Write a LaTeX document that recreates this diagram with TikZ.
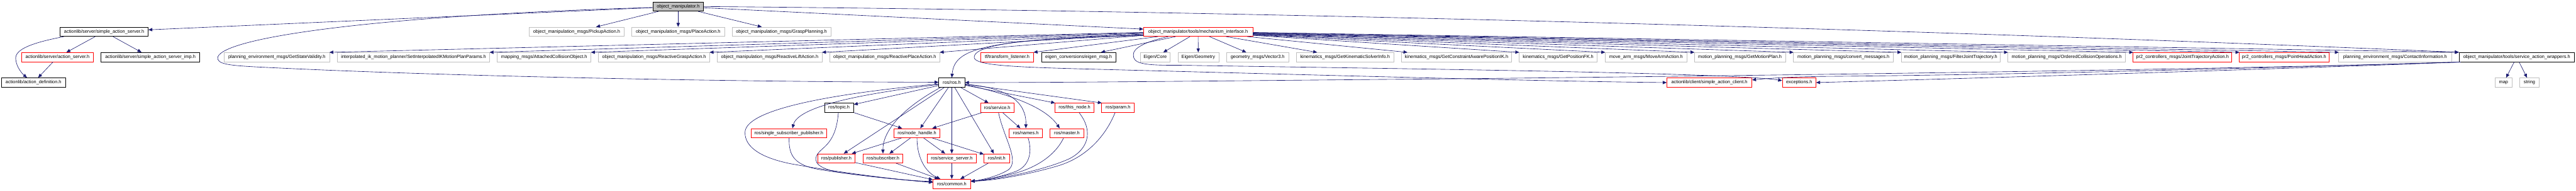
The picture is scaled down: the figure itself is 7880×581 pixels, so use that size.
\documentclass[tikz,border=0pt]{standalone}
\usepackage{fontspec}
\setmainfont{Liberation Sans}
\usetikzlibrary{arrows.meta}
\definecolor{edgec}{HTML}{191970}
\definecolor{grayc}{HTML}{BFBFBF}
\definecolor{redc}{HTML}{FF0000}
\definecolor{rootgray}{HTML}{BFBFBF}
\tikzset{
  nb/.style={draw, rectangle, minimum height=28.3pt, inner xsep=0pt, inner ysep=0pt,
    font=\fontsize{14.2pt}{17pt}\selectfont, text=black, fill=white},
  gbox/.style={nb, draw=grayc, line width=1.2pt},
  rbox/.style={nb, draw=redc, line width=1.2pt},
  kbox/.style={nb, draw=black, line width=1.6pt},
  rootbox/.style={nb, draw=black, fill=rootgray, line width=1.6pt},
  e/.style={draw=edgec, line width=1.2pt, -{Triangle[length=12pt,width=10pt]}},
}
\begin{document}
\begin{tikzpicture}[x=1pt,y=-1pt]
\fill[white] (0,0) rectangle (7880,581);
\useasboundingbox (0,0) rectangle (7880,581);

% layer 0
\node[rootbox, minimum width=155pt] (root) at (2074.5,19.9) {object\_manipulator.h};
% layer 1
\node[kbox, minimum width=269pt] (sas) at (318.5,96.9) {actionlib/server/simple\_action\_server.h};
\node[gbox, minimum width=290pt] (pick) at (1764,96.9) {object\_manipulation\_msgs/PickupAction.h};
\node[gbox, minimum width=283pt] (place) at (2074.5,96.9) {object\_manipulation\_msgs/PlaceAction.h};
\node[gbox, minimum width=301pt] (gplan) at (2390.5,96.9) {object\_manipulation\_msgs/GraspPlanning.h};
\node[rbox, minimum width=334pt] (mech) at (3665,96.9) {object\_manipulator/tools/mechanism\_interface.h};
% layer 2
\node[rbox, minimum width=220pt] (asrv) at (176,174.5) {actionlib/server/action\_server.h};
\node[kbox, minimum width=302pt] (sasimp) at (460,174.5) {actionlib/server/simple\_action\_server\_imp.h};
\node[gbox, minimum width=322pt] (gsv) at (847,174.5) {planning\_environment\_msgs/GetStateValidity.h};
\node[gbox, minimum width=466pt] (iik) at (1265,174.5) {interpolated\_ik\_motion\_planner/SetInterpolatedIKMotionPlanParams.h};
\node[gbox, minimum width=287pt] (aco) at (1664.5,174.5) {mapping\_msgs/AttachedCollisionObject.h};
\node[gbox, minimum width=340pt] (rga) at (2001,174.5) {object\_manipulation\_msgs/ReactiveGraspAction.h};
\node[gbox, minimum width=321pt] (rla) at (2354.5,174.5) {object\_manipulation\_msgs/ReactiveLiftAction.h};
\node[gbox, minimum width=337pt] (rpa) at (2706.5,174.5) {object\_manipulation\_msgs/ReactivePlaceAction.h};
\node[rbox, minimum width=162pt] (tfl) at (3081,174.5) {tf/transform\_listener.h};
\node[kbox, minimum width=227pt] (eig) at (3299.5,174.5) {eigen\_conversions/eigen\_msg.h};
\node[gbox, minimum width=91pt] (ecore) at (3533.5,174.5) {Eigen/Core};
\node[gbox, minimum width=125pt] (egeo) at (3665.5,174.5) {Eigen/Geometry};
\node[gbox, minimum width=190pt] (vec3) at (3847,174.5) {geometry\_msgs/Vector3.h};
\node[gbox, minimum width=299pt] (gksi) at (4114.5,174.5) {kinematics\_msgs/GetKinematicSolverInfo.h};
\node[gbox, minimum width=337pt] (gcapik) at (4455.5,174.5) {kinematics\_msgs/GetConstraintAwarePositionIK.h};
\node[gbox, minimum width=239pt] (gpfk) at (4766.5,174.5) {kinematics\_msgs/GetPositionFK.h};
\node[gbox, minimum width=250pt] (maa) at (5035,174.5) {move\_arm\_msgs/MoveArmAction.h};
\node[gbox, minimum width=279pt] (gmp) at (5322.5,174.5) {motion\_planning\_msgs/GetMotionPlan.h};
\node[gbox, minimum width=306pt] (cmsg) at (5639,174.5) {motion\_planning\_msgs/convert\_messages.h};
\node[gbox, minimum width=302pt] (fjt) at (5967,174.5) {motion\_planning\_msgs/FilterJointTrajectory.h};
\node[gbox, minimum width=360pt] (oco) at (6322,174.5) {motion\_planning\_msgs/OrderedCollisionOperations.h};
\node[rbox, minimum width=302pt] (jta) at (6676,174.5) {pr2\_controllers\_msgs/JointTrajectoryAction.h};
\node[rbox, minimum width=274pt] (pha) at (6987,174.5) {pr2\_controllers\_msgs/PointHeadAction.h};
\node[gbox, minimum width=345pt] (cinfo) at (7326.5,174.5) {planning\_environment\_msgs/ContactInformation.h};
\node[kbox, minimum width=353pt] (saw) at (7698.5,174.5) {object\_manipulator/tools/service\_action\_wrappers.h};
% layer 3
\node[kbox, minimum width=195pt] (adef) at (102.5,252) {actionlib/action\_definition.h};
\node[kbox, minimum width=79pt] (ros) at (2911.5,252) {ros/ros.h};
\node[rbox, minimum width=260pt] (sac) at (5229,252) {actionlib/client/simple\_action\_client.h};
\node[rbox, minimum width=103pt] (exc) at (5503.5,252) {exceptions.h};
\node[gbox, minimum width=51pt] (map) at (7658.5,252) {map};
\node[gbox, minimum width=59pt] (str) at (7737.5,252) {string};
% layer 4
\node[kbox, minimum width=89pt] (topic) at (2566.5,329) {ros/topic.h};
\node[rbox, minimum width=103pt] (srv) at (3050.5,329) {ros/service.h};
\node[rbox, minimum width=120pt] (tnode) at (3287,329) {ros/this\_node.h};
\node[rbox, minimum width=100pt] (param) at (3420,329) {ros/param.h};
% layer 5
\node[rbox, minimum width=232pt] (ssp) at (2413,406.3) {ros/single\_subscriber\_publisher.h};
\node[rbox, minimum width=140pt] (nh) at (2805,406.3) {ros/node\_handle.h};
\node[rbox, minimum width=102pt] (names) at (3138,406.3) {ros/names.h};
\node[rbox, minimum width=103pt] (master) at (3263.5,406.3) {ros/master.h};
% layer 6
\node[rbox, minimum width=115pt] (pub) at (2558.5,483.5) {ros/publisher.h};
\node[rbox, minimum width=122pt] (sub) at (2701,483.5) {ros/subscriber.h};
\node[rbox, minimum width=149pt] (ssrv) at (2911.5,483.5) {ros/service\_server.h};
\node[rbox, minimum width=78pt] (init) at (3049,483.5) {ros/init.h};
% layer 7
\node[rbox, minimum width=115pt] (common) at (2911.5,561) {ros/common.h};

% ---- edges from root
\draw[e] (root) -- (sas);
\draw[e] (root) -- (pick);
\draw[e] (root) -- (place);
\draw[e] (root) -- (gplan);
\draw[e] (root) -- (mech);
\draw[e] (root.east) .. controls (4000,35) and (6000,95) .. (saw.north west);
\draw[e] ([yshift=-3pt]root.west) .. controls (1200,45) and (690,110) .. (666,174)
  .. controls (662,196) and (700,200) .. (800,205)
  .. controls (1400,235) and (2300,250) .. ([yshift=1pt]ros.west);

% ---- simple action server
\draw[e] (sas) -- (asrv);
\draw[e] (sas) -- (sasimp);
\draw[e] ([xshift=12pt]sas.south west) .. controls (100,130) and (45,150) .. (48,180)
  .. controls (50,205) and (68,225) .. ([xshift=-20pt]adef.north);
\draw[e] (asrv) -- (adef);

% ---- mechanism interface, left
\draw[e] ([yshift=-2pt]mech.west) -- ([xshift=-1pt]gsv.north east);
\draw[e] ([yshift=-3pt]mech.west) -- ([xshift=-1pt]iik.north east);
\draw[e] ([yshift=-5pt]mech.west) -- ([xshift=-1pt]aco.north east);
\draw[e] ([yshift=-7pt]mech.west) -- ([xshift=-1pt]rga.north east);
\draw[e] ([yshift=-9pt]mech.west) -- ([xshift=-1pt]rla.north east);
\draw[e] ([yshift=-11pt]mech.west) -- ([xshift=-1pt]rpa.north east);
\draw[e] ([xshift=45pt]mech.south west) -- ([xshift=-1pt]tfl.north east);
\draw[e] ([xshift=99pt]mech.south west) -- ([xshift=-46pt]eig.north east);
\draw[e] ([yshift=3pt]mech.south west) .. controls (3000,120) and (2920,150) .. (ros.north);
\draw[e] ([yshift=4pt]mech.south west) .. controls (3150,115) and (2982,135) .. (2980,174)
  .. controls (2978,198) and (3080,204) .. (3300,210)
  .. controls (4000,228) and (4700,248) .. (sac.west);
\draw[e] ([xshift=76pt]mech.south west) .. controls (3500,128) and (3466,148) .. (3467,167)
  .. controls (3466,192) and (3490,200) .. (3600,199)
  .. controls (4300,210) and (5300,222) .. ([yshift=6pt]exc.west);
% ---- mechanism interface, below / right
\draw[e] (mech) -- (ecore);
\draw[e] (mech) -- (egeo);
\draw[e] (mech) -- (vec3);
\draw[e] (mech) -- (gksi);
\draw[e] (mech) -- (gcapik);
\draw[e] ([yshift=-11pt]mech.east) -- ([xshift=1pt]gpfk.north west);
\draw[e] ([yshift=-10pt]mech.east) -- ([xshift=1pt]maa.north west);
\draw[e] ([yshift=-9pt]mech.east) -- ([xshift=1pt]gmp.north west);
\draw[e] ([yshift=-8pt]mech.east) -- ([xshift=1pt]cmsg.north west);
\draw[e] ([yshift=-7pt]mech.east) -- ([xshift=1pt]fjt.north west);
\draw[e] ([yshift=-6pt]mech.east) -- ([xshift=1pt]oco.north west);
\draw[e] ([yshift=-5pt]mech.east) -- ([xshift=1pt]jta.north west);
\draw[e] ([yshift=-4pt]mech.east) -- ([xshift=1pt]pha.north west);
\draw[e] ([yshift=-3pt]mech.east) -- ([xshift=1pt]cinfo.north west);
\draw[e] ([yshift=-2pt]mech.east) -- ([xshift=1pt]saw.north west);

% ---- service action wrappers
\draw[e] (saw) -- (map);
\draw[e] (saw) -- (str);
\draw[e] ([xshift=2pt]saw.south west) .. controls (6900,210) and (5600,228) .. (4500,240)
  .. controls (3800,246) and (3300,252) .. (ros.east);
\draw[e] ([xshift=4pt]saw.south west) .. controls (7000,205) and (6200,228) .. (5600,233)
  .. controls (5470,234) and (5400,240) .. ([yshift=8pt]sac.east);
\draw[e] ([xshift=6pt]saw.south west) .. controls (7000,210) and (6000,240) .. (exc.east);

% ---- ros/ros.h
\draw[e] (ros) -- (topic);
\draw[e] (ros) -- (pub);
\draw[e] (ros) -- (nh);
\draw[e] (ros) -- (ssrv);
\draw[e] (ros) -- (init);
\draw[e] (ros) -- (srv);
\draw[e] ([yshift=-8pt]ros.east) -- ([xshift=1pt]tnode.north west);
\draw[e] ([yshift=-5pt]ros.east) -- ([xshift=1pt]param.north west);
\draw[e] ([yshift=-6pt]ros.west) .. controls (2600,290) and (2440,330) .. ([xshift=11pt]ssp.north);
\draw[e] ([yshift=-4pt]ros.west) .. controls (2500,290) and (2280,340) .. (2279,404)
  .. controls (2278,450) and (2330,482) .. (2420,500)
  .. controls (2600,532) and (2780,552) .. ([yshift=5pt]common.west);
\draw[e] ([xshift=6pt]ros.south west) .. controls (2760,330) and (2700,400) .. (sub.north);
\draw[e] ([yshift=-5pt]ros.east) .. controls (3090,268) and (3140,315) .. (names.north);
\draw[e] ([yshift=-6pt]ros.east) .. controls (3100,290) and (3200,330) .. ([xshift=-22pt]master.north);

% ---- second level
\draw[e] (topic) -- (nh);
\draw[e] ([xshift=-2pt]topic.south) .. controls (2560,400) and (2545,430) .. (2515,455)
  .. controls (2480,485) and (2490,510) .. (2560,525)
  .. controls (2700,545) and (2800,552) .. ([yshift=7pt]common.west);
\draw[e] (srv) -- (nh);
\draw[e] (srv) -- (names);
\draw[e] ([xshift=4pt]srv.south) .. controls (3070,420) and (3120,490) .. (3085,518)
  .. controls (3050,540) and (3000,549) .. ([yshift=7pt]common.east);
\draw[e] (nh) -- (pub);
\draw[e] (nh) -- (sub);
\draw[e] (nh) -- (ssrv);
\draw[e] (nh) -- (init);
\draw[e] (nh.south) .. controls (2805,480) and (2830,525) .. ([xshift=-35pt]common.north);
\draw[e] ([xshift=1pt]ssp.south) .. controls (2412,475) and (2430,505) .. (2510,518)
  .. controls (2650,540) and (2800,552) .. ([yshift=4pt]common.west);
\draw[e] ([xshift=7pt]names.south) .. controls (3160,470) and (3145,510) .. (3105,524)
  .. controls (3060,540) and (3010,550) .. ([yshift=8pt]common.east);
\draw[e] ([xshift=-10pt]master.south) .. controls (3225,480) and (3160,515) .. (3100,530)
  .. controls (3050,542) and (3010,550) .. ([yshift=8pt]common.east);
\draw[e] ([xshift=14pt]tnode.south) .. controls (3345,400) and (3330,455) .. (3270,485)
  .. controls (3180,525) and (3030,550) .. ([yshift=8pt]common.east);
\draw[e] ([xshift=-9pt]param.south) .. controls (3380,420) and (3320,480) .. (3240,505)
  .. controls (3140,535) and (3030,552) .. ([yshift=8pt]common.east);
\draw[e] (pub) -- (common);
\draw[e] (sub) -- (common);
\draw[e] (ssrv) -- (common);
\draw[e] (init) -- (common);
\end{tikzpicture}
\end{document}
